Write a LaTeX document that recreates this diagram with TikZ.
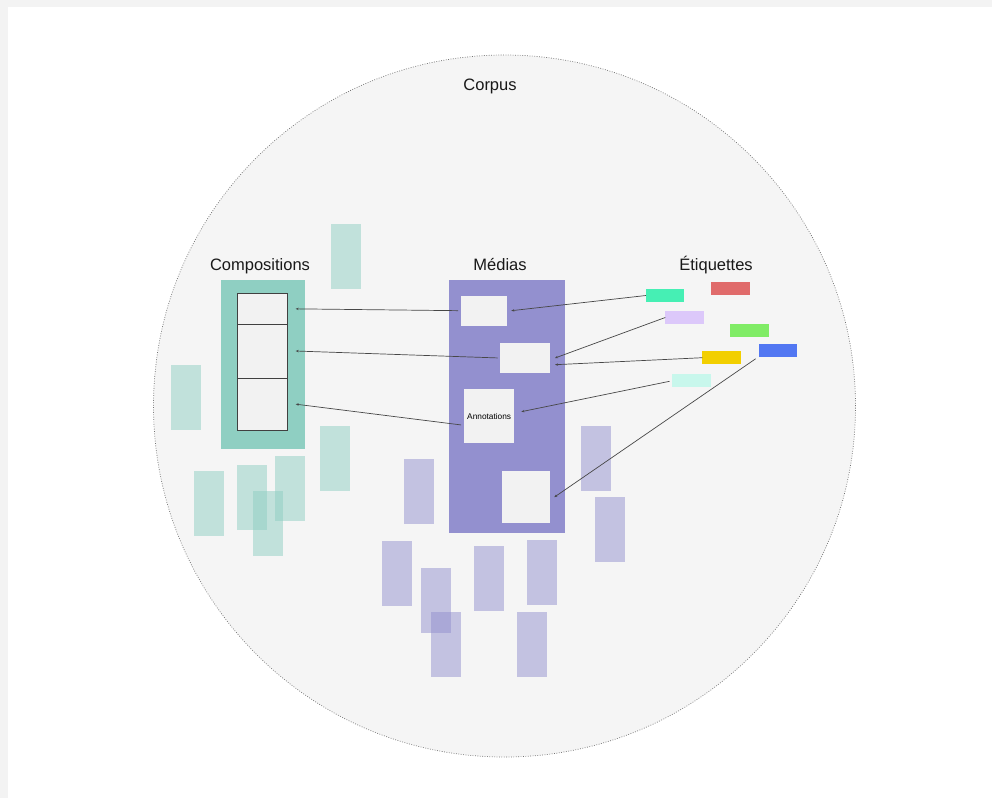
\documentclass[tikz,border=0pt]{standalone}
\usepackage{fontspec}
\setmainfont{Liberation Sans}
\usetikzlibrary{arrows.meta,positioning}
\definecolor{framegray}{HTML}{F3F3F3}
\definecolor{corpusgray}{HTML}{F5F5F5}
\definecolor{cellgray}{HTML}{F2F2F2}
\definecolor{compteal}{HTML}{8FCFC2}
\definecolor{medpurple}{HTML}{9390CF}
\definecolor{tagmint}{HTML}{46EFB4}
\definecolor{tagred}{HTML}{E06B6B}
\definecolor{taglav}{HTML}{DCC8FA}
\definecolor{taglime}{HTML}{80EC66}
\definecolor{tagblue}{HTML}{5277F2}
\definecolor{tagyellow}{HTML}{F2CF00}
\definecolor{tagcyan}{HTML}{C8F7EC}

\begin{document}
\begin{tikzpicture}[x=1pt,y=-1pt,
	box/.style={rectangle, inner sep=0pt, outer sep=0pt},
	cell/.style={box, fill=cellgray, draw=black!75, line width=0.7pt, minimum width=50.4pt},
	media/.style={box, fill=cellgray},
	tag/.style={box, minimum width=38.5pt, minimum height=13pt},
	title/.style={anchor=base, inner sep=0pt, font=\fontsize{16.5}{18}\selectfont, text=black!90},
	link/.style={draw=black!72, line width=0.7pt, -{Stealth[length=3pt,width=2.4pt]}},
	ghostc/.style={fill=compteal, fill opacity=0.5},
	ghostm/.style={fill=medpurple, fill opacity=0.5}]
			\useasboundingbox (0,0) rectangle (992,798);
			\fill [framegray] (0,0) rectangle (992,798);
			\fill [white] (8,7) rectangle (992,798);
			
			% corpus
			\node (corpus) [circle, minimum size=702pt, fill=corpusgray, draw=black!55, dash pattern=on 0.8pt off 1.6pt, line width=0.7pt] at (504.5,406) {};
			\node (corpuslbl) [title] at (490,90) {Corpus};
			
			% faded items
			\foreach \x/\y in {170.7/364.7, 194/471.3, 237.3/465, 253/491.3, 275/455.7, 320.3/426, 331/224}
				\fill [ghostc] (\x,\y) rectangle ++(30,65);
			\foreach \x/\y in {403.7/459, 580.7/425.7, 595/497.3, 381.7/541.3, 420.7/568, 431.3/612, 474/545.7, 527.3/540, 516.7/612}
				\fill [ghostm] (\x,\y) rectangle ++(30,65);
			
			% compositions
			\node (comp) [box, fill=compteal, minimum width=84pt, minimum height=169pt] at (263,364.5) {};
			\node (complbl) [title] at (260,270) {Compositions};
			\node (c1) [cell, minimum height=30.3pt] at (262.5,308.85) {};
			\node (c2) [cell, minimum height=54pt, below=0pt of c1] {};
			\node (c3) [cell, minimum height=52.3pt, below=0pt of c2] {};
			
			% medias
			\node (med) [box, fill=medpurple, minimum width=116pt, minimum height=253.3pt] at (507,406.65) {};
			\node (medlbl) [title] at (500,270) {Médias};
			\node (m1) [media, minimum width=46.3pt, minimum height=30pt] at (484.15,310.7) {};
			\node (m2) [media, minimum width=50.6pt, minimum height=29.4pt] at (525,358) {};
			\node (m3) [media, minimum width=50.3pt, minimum height=54pt, font=\fontsize{8.3}{10}\selectfont] at (489.15,416.3) {Annotations};
			\node (m4) [media, minimum width=48pt, minimum height=52.3pt] at (526.3,497.15) {};
			
			% etiquettes
			\node (taglbl) [title] at (716,270) {Étiquettes};
			\node (tmint) [tag, fill=tagmint] at (665.2,295.5) {};
			\node (tred) [tag, fill=tagred] at (730.5,288.8) {};
			\node (tlav) [tag, fill=taglav] at (684.5,317.5) {};
			\node (tlime) [tag, fill=taglime] at (749.7,330.7) {};
			\node (tblue) [tag, fill=tagblue] at (778.2,350) {};
			\node (tyel) [tag, fill=tagyellow] at (721.7,357.7) {};
			\node (tcyan) [tag, fill=tagcyan] at (691.7,380.7) {};
			
			% links
			\draw [link, shorten <=3pt] (m1.west) -- ([xshift=8pt]c1.east);
			\draw [link, shorten <=2pt] (m2.west) -- ([xshift=8pt]c2.east);
			\draw [link, shorten <=3pt] ([yshift=-9pt]m3.west) -- ([xshift=8pt]c3.east);
			\draw [link] (tmint.west) -- ([xshift=4pt]m1.east);
			\draw [link] (tlav.west) -- ([xshift=4.7pt]m2.east);
			\draw [link] (tyel.west) -- ([xshift=4.7pt,yshift=-6.7pt]m2.east);
			\draw [link, shorten <=3pt] (tcyan.west) -- ([xshift=7pt,yshift=4.6pt]m3.east);
			\draw [link, shorten <=4pt] (tblue.south west) -- ([xshift=4pt]m4.east);
		\end{tikzpicture}
\end{document}
